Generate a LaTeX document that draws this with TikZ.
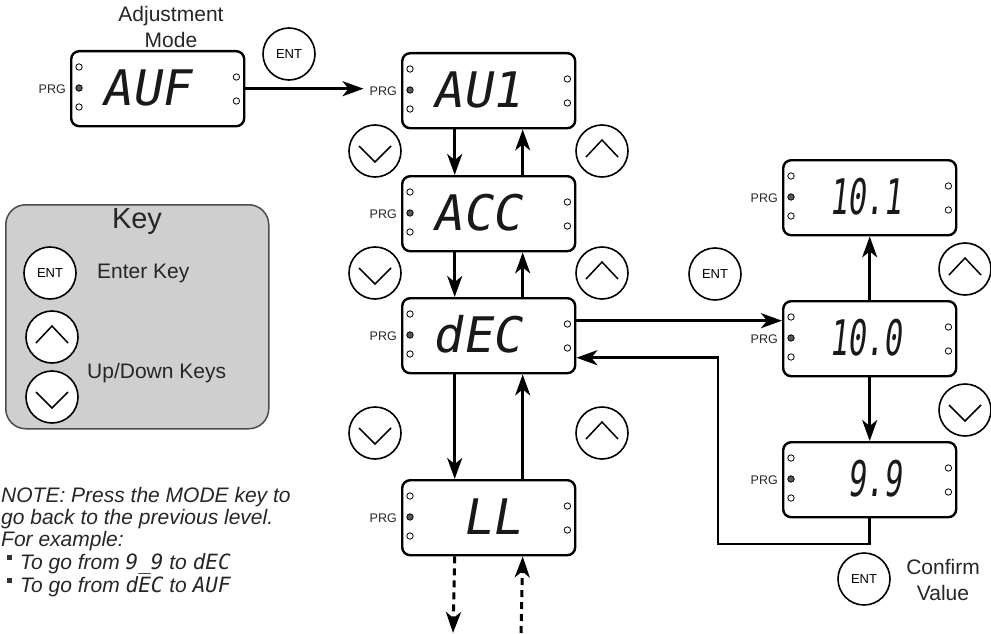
\documentclass[tikz,border=0pt]{standalone}
\usepackage{fontspec}
\usepackage{graphicx}
\setmainfont{Liberation Sans}
\newfontfamily\segfont{DejaVu Sans Mono}[FakeSlant=0.18]
\newfontfamily\segup{DejaVu Sans Mono}
\usetikzlibrary{arrows.meta}
\tikzset{
 dbox/.style={draw, line width=2.4pt, rounded corners=8pt, minimum width=173pt, minimum height=75pt, inner sep=0pt, fill=white},
 prg/.style={font=\fontsize{12.5}{12.5}\selectfont, inner sep=0pt, text=black!85},
 led/.style={draw, line width=0.8pt, fill=white},
 ledon/.style={fill=black!65},
 seg/.style={font=\segfont\fontsize{49}{49}\selectfont, inner sep=0pt, anchor=east, text=black!90},
 key/.style={circle, draw, line width=1.6pt, minimum size=52pt, inner sep=0pt, font=\fontsize{13}{13}\selectfont, fill=white},
 chev/.style={line width=1.5pt},
 tipS/.tip={Stealth[length=21pt,width=15pt,inset=6pt]},
 arr/.style={line width=2.8pt, -tipS},
 darr/.style={arr, dash pattern=on 7pt off 5pt, line width=3pt},
 lab/.style={font=\fontsize{21}{26}\selectfont, align=center, inner sep=0pt, text=black!85},
 note/.style={font=\fontsize{21}{23}\selectfont\itshape, inner sep=0pt, anchor=base west, text=black!85},
 keybox/.style={draw=black!70, line width=1.5pt, fill=black!19, rounded corners=20pt, minimum width=263pt, minimum height=224pt, anchor=north west, inner sep=0pt},
}
\newcommand{\dispunit}[4]{%
 \node[dbox, anchor=north west] (#1) at (#2,#3) {};
 \node[prg, anchor=east] (#1p) at ([xshift=-4pt]#1.west) {PRG};
 \draw[led] ([shift={(9pt,-17pt)}]#1.north west) circle (3.2pt);
 \draw[led,ledon] ([shift={(9pt,-38pt)}]#1.north west) circle (3.2pt);
 \draw[led] ([shift={(9pt,-57pt)}]#1.north west) circle (3.2pt);
 \draw[led] ([shift={(-9pt,-27pt)}]#1.north east) circle (3.2pt);
 \draw[led] ([shift={(-9pt,-51pt)}]#1.north east) circle (3.2pt);
 \node[seg] (#1t) at ([shift={(-55pt,1pt)}]#1.east) {#4};
}
\newcommand{\dnkey}[3]{%
 \node[key] (#1) at (#2,#3) {};
 \draw[chev] ([shift={(-16pt,5pt)}]#1.center) -- ([shift={(0pt,-11pt)}]#1.center) -- ([shift={(16pt,5pt)}]#1.center);
}
\newcommand{\upkey}[3]{%
 \node[key] (#1) at (#2,#3) {};
 \draw[chev] ([shift={(-16pt,-6pt)}]#1.center) -- ([shift={(0pt,11pt)}]#1.center) -- ([shift={(16pt,-6pt)}]#1.center);
}
\begin{document}
\begin{tikzpicture}[x=1pt,y=-1pt]
\useasboundingbox (0,0) rectangle (991,634);

% Adjustment mode
\node[lab] (adjlab) at (171,27) {Adjustment\\Mode};
\dispunit{auf}{70}{50}{AUF}
\node[key] (ent1) at (289,54) {ENT};

% left column
\dispunit{aui}{401}{52}{AU1}
\dispunit{acc}{401}{175}{ACC}
\dispunit{dec}{401}{297}{dEC}
\dispunit{ll}{401}{479}{LL}

% right column
\dispunit{vA}{782}{159}{\scalebox{0.62}[1]{10.1}}
\dispunit{vB}{782}{300}{\scalebox{0.62}[1]{10.0}}
\dispunit{vC}{782}{441}{\scalebox{0.62}[1]{9.9}}

% keys
\dnkey{d1}{375}{151}
\dnkey{d2}{375}{273}
\dnkey{d3}{375}{433}
\upkey{u1}{602}{151}
\upkey{u2}{602}{273}
\upkey{u3}{602}{433}
\node[key] (ent2) at (715,274) {ENT};
\upkey{u4}{965}{269}
\dnkey{d4}{965}{410}
\node[key] (ent3) at (864,579) {ENT};
\node[lab] (conf) at (943,580) {Confirm\\Value};

% connectors
\draw[arr] (auf.east) -- ([xshift=-6pt]auf.east -| auip.west);
\draw[arr] ([xshift=-34pt]aui.south) -- ([xshift=-34pt]acc.north);
\draw[arr] ([xshift=34pt]acc.north) -- ([xshift=34pt]aui.south);
\draw[arr] ([xshift=-34pt]acc.south) -- ([xshift=-34pt]dec.north);
\draw[arr] ([xshift=34pt]dec.north) -- ([xshift=34pt]acc.south);
\draw[arr] ([xshift=-34pt]dec.south) -- ([xshift=-34pt]ll.north);
\draw[arr] ([xshift=34pt]ll.north) -- ([xshift=34pt]dec.south);
\coordinate (ldn) at (453,633);
\coordinate (lup) at (521,633);
\draw[darr] ([xshift=-34pt]ll.south) -- (ldn);
\draw[darr] (lup) -- ([xshift=34pt]ll.south);
\draw[arr] ([yshift=15pt]dec.east) -- ([yshift=15pt]dec.east -| vB.west);
\draw[arr] (vB.north) -- (vA.south);
\draw[arr] (vB.south) -- (vC.north);
\coordinate (rc) at (718,544);
\draw[arr] (vC.south) |- (rc) |- ([yshift=-22pt]dec.east);

% key legend
\node[keybox] (keyb) at (5,204) {};
\node[lab, font=\fontsize{29}{29}\selectfont] (keyt) at (137,222) {Key};
\node[key] (kent) at (50,273) {ENT};
\upkey{ku}{52}{337}
\dnkey{kd}{52}{397}
\node[lab, anchor=west] (kentl) at (97,273) {Enter Key};
\node[lab, anchor=west] (kudl) at (87,373) {Up/Down Keys};

% note
\node[note] (n1) at (1,502) {NOTE: Press the MODE key to};
\node[note] (n2) at (1,524) {go back to the previous level.};
\node[note] (n3) at (1,546) {For example:};
\node[note] (n4) at (20,569) {To go from {\segup 9\_9} to {\segup dEC}};
\node[note] (n5) at (20,592) {To go from {\segup dEC} to {\segup AUF}};
\fill[black!80] (7,555) rectangle (12,560);
\fill[black!80] (7,578) rectangle (12,583);
\end{tikzpicture}
\end{document}
